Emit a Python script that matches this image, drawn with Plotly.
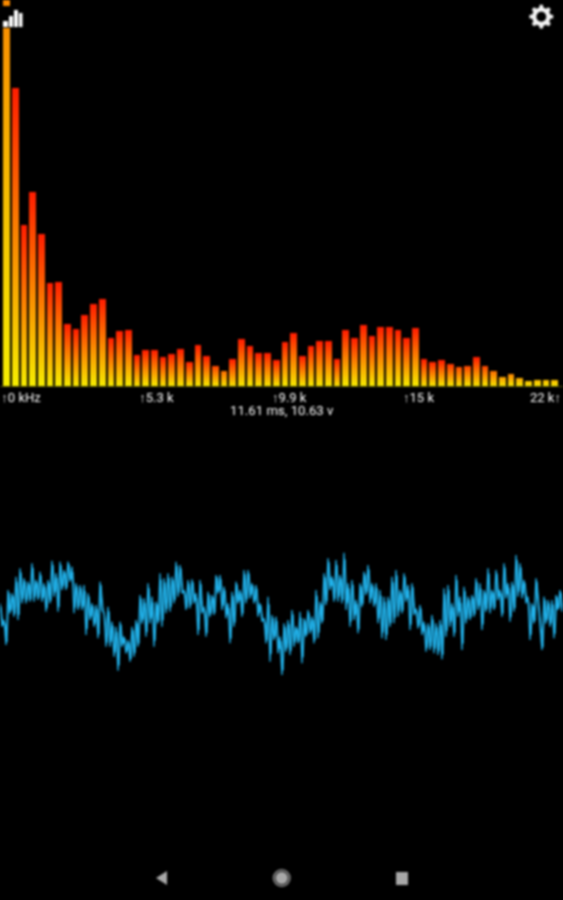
import math
import plotly.graph_objects as go

W, H = 563, 900
BASE = 386.0
PITCH = 8.7
FIRST = 6.5

# spectrum magnitudes, bar 0 runs far off the top of the screen
spectrum = [800, 298, 161, 194, 152, 103, 104, 62, 57, 71, 82, 87, 48, 55, 56, 31, 36, 36, 29, 32,
            37, 24, 41, 30, 20, 15, 27, 47, 40, 33, 33, 26, 44, 53, 30, 40, 45, 45, 27, 56,
            48, 61, 50, 59, 59, 56, 48, 58, 27, 24, 26, 22, 19, 20, 29, 20, 15, 9, 12, 8,
            5, 6, 6, 6]
tick_bars = [1.67, 17.24, 32.5, 47.36, 61.95]
tick_text = ["↑0 kHz", "↑5.3 k", "↑9.9 k", "↑15 k", "22 k↑"]
readout = "11.61 ms, 10.63 v"

# waveform envelope: alternating high/low readings (smaller reading = higher on screen)
wave_high = [190, 240, 150, 160, 110, 85, 115, 125, 70, 120, 95, 130, 120, 62, 100, 65, 90, 65, 80, 130,
             135, 135, 160, 190, 195, 125, 220, 200, 245, 260, 245, 290, 300, 260, 240, 165, 175, 130, 170, 185,
             100, 115, 100, 110, 65, 75, 150, 120,
             118, 160, 120, 200, 155, 165, 105, 105, 140, 190, 155, 125, 150, 90, 90, 130, 135, 190, 235, 170,
             225, 230, 290, 250, 240, 210, 260, 215, 235, 210, 230, 150, 185, 100, 55, 110, 60, 105, 38, 130,
             120, 180, 130, 95, 75, 130,
             130, 150, 170, 170, 110, 90, 150, 100, 135, 130, 205, 195, 245, 250, 225, 250, 240, 145, 135, 190,
             105, 170, 140, 170, 165, 115, 130, 150, 85, 150, 90, 150, 70, 130, 125, 45, 70, 120, 170, 190,
             115, 260, 170, 180, 180, 165, 150]
wave_low = [260, 315, 220, 230, 240, 190, 190, 185, 185, 180, 185, 215, 190, 170, 215, 150, 150, 125, 220, 210,
            210, 285, 240, 260, 295, 210, 320, 320, 350, 392, 320, 340, 365, 350, 320, 250, 290, 250, 320, 250,
            260, 220, 215, 190, 170, 160, 210, 205,
            190, 285, 220, 290, 230, 225, 160, 210, 235, 310, 260, 190, 230, 190, 175, 190, 230, 245, 310, 365,
            300, 340, 405, 335, 345, 320, 310, 370, 290, 280, 310, 295, 250, 195, 150, 185, 185, 190, 210, 260,
            240, 280, 200, 165, 190, 200,
            250, 295, 300, 260, 250, 230, 220, 185, 270, 225, 265, 285, 335, 330, 340, 345, 358, 290, 260, 290,
            230, 330, 250, 240, 230, 210, 270, 215, 220, 210, 180, 230, 175, 245, 215, 170, 175, 190, 300, 250,
            200, 330, 250, 260, 295, 210, 215]

YEL = (245, 238, 0)
RED = (255, 30, 0)


def mix(t):
    return "rgb(%d,%d,%d)" % tuple(round(a + (b - a) * t) for a, b in zip(YEL, RED))


# each bar is cut into short stacked slices so it can carry a vertical gradient
sx, sy, sb, sc = [], [], [], []
STEP = 2.0
for i, v in enumerate(spectrum):
    n = max(1, math.ceil(v / STEP))
    for k in range(n):
        lo = v * k / n
        sx.append(i)
        sy.append(v / n)
        sb.append(lo)
        sc.append(mix(min(1, (v * (k + 1) / n) / max(v, 25))))

wave_x, wave_y, core_x, core_y = [], [], [], []
for j, (a, b) in enumerate(zip(wave_high, wave_low)):
    wave_x += [j * 4, j * 4 + 2]
    wave_y += [a, b]
    # tighter second pass over the same readings: the dense body of the trace
    core_x += [j * 4 + 1, j * 4 + 3]
    core_y += [a + 0.12 * (b - a), b - 0.12 * (b - a)]

fig = go.Figure()
fig.add_trace(go.Bar(x=sx, y=sy, base=sb, width=0.78, marker=dict(color=sc, line=dict(width=0)),
                     hoverinfo="skip", showlegend=False))
fig.add_trace(go.Scatter(x=wave_x, y=wave_y, mode="lines", xaxis="x2", yaxis="y2",
                         line=dict(color="#1fb2ee", width=1.3), hoverinfo="skip", showlegend=False))
fig.add_trace(go.Scatter(x=core_x, y=core_y, mode="lines", xaxis="x2", yaxis="y2",
                         line=dict(color="#25bcf5", width=0.9), hoverinfo="skip", showlegend=False))


def px(x):
    return x / W


def py(y):
    return 1 - y / H


def path(points):
    return "M" + "L".join(f"{px(x):.5f},{py(y):.5f}" for x, y in points) + "Z"


def rect(x0, y0, x1, y1, color, layer="above"):
    return dict(type="rect", xref="paper", yref="paper", x0=px(x0), x1=px(x1), y0=py(y1), y1=py(y0),
                fillcolor=color, line_width=0, layer=layer)


def gear(cx, cy, r_out, r_root, r_hole, teeth=8):
    pts = []
    for t in range(teeth):
        a = 2 * math.pi * t / teeth
        d = 2 * math.pi / teeth
        for off, r in [(-0.30, r_root), (-0.17, r_out), (0.17, r_out), (0.30, r_root)]:
            pts.append((cx + r * math.cos(a + off * d), cy + r * math.sin(a + off * d)))
    hole = [(cx + r_hole * math.cos(2 * math.pi * k / 24), cy + r_hole * math.sin(2 * math.pi * k / 24))
            for k in range(24)]
    return path(pts) + path(hole)


shapes = [
    rect(0, 6, 25, 28, "#000000"),
    rect(3, 21, 8, 27, "#ffffff"), rect(9, 16, 13, 27, "#ffffff"),
    rect(14, 10, 18, 27, "#ffffff"), rect(19, 13, 22.5, 27, "#ffffff"),
    dict(type="path", xref="paper", yref="paper", path=gear(541.3, 16.7, 12, 9.3, 5),
         fillcolor="#f4f4f4", line_width=0, layer="above"),
    dict(type="path", xref="paper", yref="paper", path=path([(167, 871), (167, 885), (156, 878)]),
         fillcolor="#a8a8a8", line_width=0, layer="above"),
    dict(type="circle", xref="paper", yref="paper", x0=px(272.7), x1=px(290.7), y0=py(887), y1=py(869),
         fillcolor="#808080", line_width=0, layer="above"),
    dict(type="circle", xref="paper", yref="paper", x0=px(274.3), x1=px(289.1), y0=py(885.4), y1=py(870.6),
         fillcolor="#3a3a3a", line_width=0, layer="above"),
    dict(type="circle", xref="paper", yref="paper", x0=px(275.7), x1=px(287.7), y0=py(884), y1=py(872),
         fillcolor="#a8a8a8", line_width=0, layer="above"),
    rect(396, 872, 408, 885, "#a8a8a8"),
]

fig.update_layout(
    width=W, height=H, margin=dict(l=0, r=0, t=0, b=0),
    paper_bgcolor="#000000", plot_bgcolor="#000000", barmode="overlay", bargap=0,
    showlegend=False, shapes=shapes,
    font=dict(family="Roboto", size=12, color="#ffffff"),
    xaxis=dict(domain=[0, 1], range=[(0 - FIRST) / PITCH, (W - FIRST) / PITCH],
               anchor="free", position=1 - BASE / H, side="bottom",
               tickmode="array", tickvals=tick_bars, ticktext=tick_text, ticks="", showgrid=False,
               zeroline=False, showline=True, linecolor="#55550f", linewidth=1,
               ticklabelstandoff=-1,
               tickfont=dict(family="Roboto", size=13, color="#ffffff")),
    yaxis=dict(domain=[0, 1], range=[BASE - H, BASE], visible=False, showgrid=False, zeroline=False),
    xaxis2=dict(domain=[0, 1], range=[0, W], overlaying="x", visible=False, showgrid=False, zeroline=False),
    yaxis2=dict(domain=[0, 1], range=[1080, -1620], overlaying="y", visible=False, showgrid=False, zeroline=False),
    annotations=[dict(text=readout, xref="paper", yref="paper", x=0.5, y=py(410.5), xanchor="center",
                      yanchor="middle", showarrow=False, font=dict(family="Roboto", size=13.2, color="#ffffff"))],
)

fig.write_html("out.html", config=dict(displayModeBar=False),
               post_script="document.body.style.margin='0';document.body.style.background='#000';"
                           "document.body.style.filter='blur(0.8px)';")
